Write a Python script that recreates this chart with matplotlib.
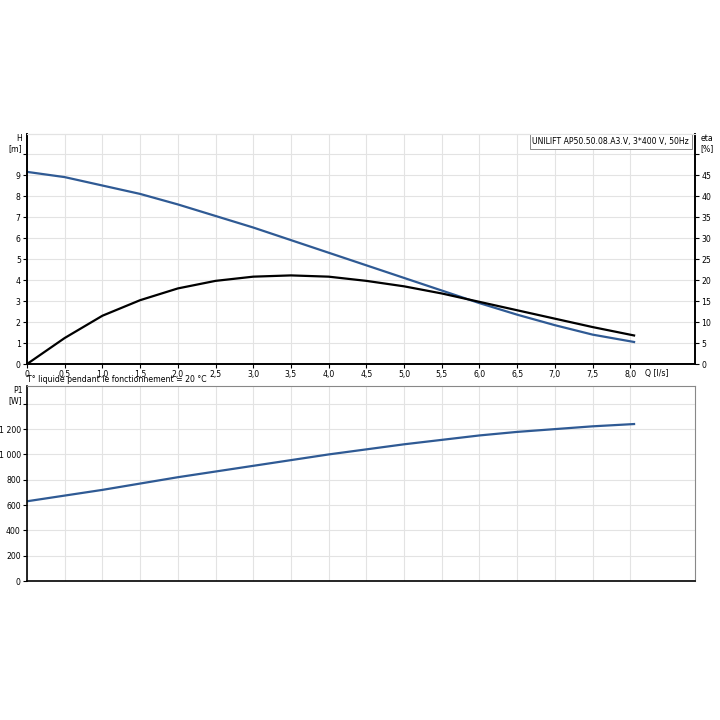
import matplotlib.pyplot as plt
import numpy as np

# débit Q [l/s]
q = [0, 0.5, 1.0, 1.5, 2.0, 2.5, 3.0, 3.5, 4.0, 4.5, 5.0, 5.5, 6.0, 6.5, 7.0, 7.5, 8.05]
# hauteur H [m]
head = [9.15, 8.9, 8.5, 8.1, 7.6, 7.05, 6.5, 5.9, 5.3, 4.7, 4.1, 3.5, 2.9, 2.35, 1.85, 1.4, 1.05]
# rendement eta [%]
eta = [0, 6.2, 11.5, 15.2, 18.0, 19.8, 20.8, 21.1, 20.8, 19.8, 18.5, 16.8, 14.8, 12.8, 10.8, 8.8, 6.8]
# puissance P1 [W]
p1 = [630, 675, 720, 770, 820, 865, 910, 955, 1000, 1040, 1080, 1115, 1150, 1178, 1200, 1222, 1240]

blue = "#2f5a94"
grid = "#e3e3e3"
fs = 5.6

fig = plt.figure(figsize=(7.2, 7.2), dpi=100)

# --- H / eta ---
ax = fig.add_axes([0.0375, 0.4944, 0.928, 0.3194])
ax.plot(q, head, color=blue, lw=1.6)
ax.set_xlim(0, 8.86)
ax.set_ylim(0, 10.95)
ax.set_xticks(np.arange(0, 8.5, 0.5))
ax.set_xticklabels([f"{v:.1f}".replace(".", ",") if v else "0" for v in np.arange(0, 8.5, 0.5)], fontsize=fs)
ax.set_yticks(range(0, 11))
ax.set_yticklabels([str(i) for i in range(10)] + [""], fontsize=fs)
ax.grid(color=grid, lw=0.8)
ax.text(-0.06, 10.95, "H\n[m]", fontsize=fs, ha="right", va="top")
ax.text(8.2, -0.25, "Q [l/s]", fontsize=fs, ha="left", va="top")
ax.text(8.78, 10.8, "UNILIFT AP50.50.08.A3.V, 3*400 V, 50Hz", fontsize=fs, ha="right", va="top",
        bbox=dict(facecolor="white", edgecolor="#888888", lw=0.7, pad=2))

ax2 = ax.twinx()
ax2.plot(q, eta, color="black", lw=1.6)
ax2.set_ylim(0, 54.75)
ax2.set_yticks(range(0, 55, 5))
ax2.set_yticklabels([str(i) for i in range(0, 50, 5)] + [""], fontsize=fs)
ax2.text(1.008, 1.0, "eta\n[%]", transform=ax.transAxes, fontsize=fs, ha="left", va="top")

for a in (ax, ax2):
    a.spines["top"].set_color(grid)
    a.tick_params(length=3, width=0.8, pad=1.5)
    a.spines["left"].set_linewidth(1.2)
    a.spines["right"].set_linewidth(1.2)
    a.spines["bottom"].set_linewidth(1.2)

# --- P1 ---
bx = fig.add_axes([0.0375, 0.193, 0.928, 0.2708])
bx.plot(q, p1, color=blue, lw=1.6)
bx.set_xlim(0, 8.86)
bx.set_ylim(0, 1540)
bx.set_xticks(np.arange(0, 8.5, 0.5))
bx.set_xticklabels([])
bx.tick_params(axis="x", length=0)
bx.set_yticks(range(0, 1600, 200))
bx.set_yticklabels(["0", "200", "400", "600", "800", "1 000", "1 200", ""], fontsize=fs)
bx.tick_params(axis="y", length=3, width=0.8, pad=1.5)
bx.grid(color=grid, lw=0.8)
bx.spines["left"].set_linewidth(1.2)
bx.spines["bottom"].set_linewidth(1.2)
bx.spines["right"].set_color("#888888")
bx.spines["top"].set_color("#888888")
bx.text(-0.06, 1540, "P1\n[W]", fontsize=fs, ha="right", va="top")
bx.text(0.0, 1.012, "T° liquide pendant le fonctionnement = 20 °C", transform=bx.transAxes,
        fontsize=fs, ha="left", va="bottom")

fig.savefig("out.png", dpi=100)
